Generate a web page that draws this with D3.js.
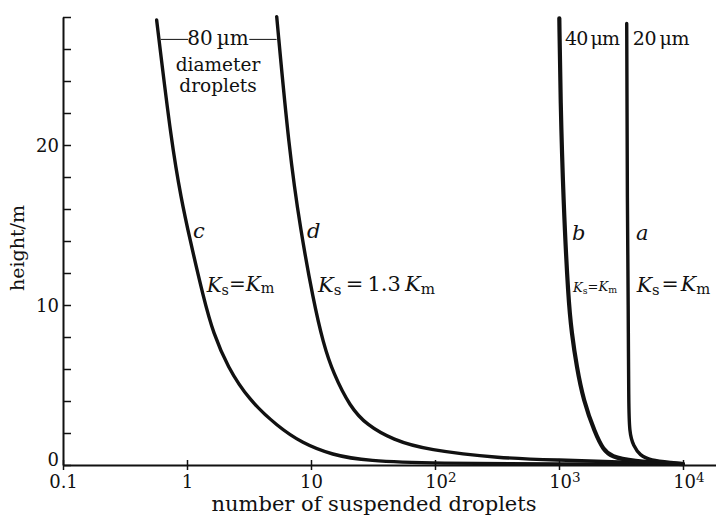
<!DOCTYPE html>
<html><head><meta charset="utf-8">
<script src="https://cdn.jsdelivr.net/npm/d3@7/dist/d3.min.js"></script>
<style>
body{margin:0;background:#fff}
svg{display:block}
text{font-family:"DejaVu Serif","Liberation Serif",serif;fill:#111}
</style>
</head><body>
<svg id="chart" width="716" height="517"></svg>
<script>
// ---- data (number of suspended droplets N vs height h in m) ----
const curveC_N = [0.569, 0.753, 0.903, 1.028, 1.371, 1.630, 2.121, 3.162, 5.42, 8.46, 14.77, 28.3, 100, 1000, 10000];
const curveC_H = [27.81, 20.0, 16.56, 14.5, 10.31, 8.25, 6.14, 4.06, 2.39, 1.375, 0.625, 0.25, 0.1, 0.06, 0.04];
const curveD_N = [5.29, 6.65, 8.23, 10.43, 12.57, 15.13, 20.63, 28.13, 46.1, 85.7, 334, 1000, 3000, 10000];
const curveD_H = [28.02, 19.69, 14.69, 10.31, 7.58, 5.73, 3.64, 2.5, 1.56, 0.94, 0.42, 0.31, 0.19, 0.06];
const curveB_N = [1006, 1028, 1083, 1189, 1266, 1389, 1570, 1951, 2277, 2661, 3738, 10000];
const curveB_H = [27.92, 22.81, 16.56, 10.31, 8.25, 6.14, 4.06, 2.0, 0.94, 0.52, 0.25, 0.06];
const curveA_N = [3516, 3540, 3556, 3600, 3623, 3650, 3690, 3981, 4500, 5420, 8300, 10000];
const curveA_H = [27.6, 22, 16.6, 12, 8.4, 4, 2, 1.2, 0.6, 0.3, 0.15, 0.08];

const xTickValues = [0.1, 1, 10, 100, 1000, 10000];
const xTickBase = ["0.1", "1", "10", "10", "10", "10"];
const xTickExp = ["", "", "", "2", "3", "4"];
const yTickValues = [0, 2, 4, 6, 8, 10, 12, 14, 16, 18, 20, 22, 24, 26, 28];
const yTickLabels = ["0", "", "", "", "", "10", "", "", "", "", "20", "", "", "", ""];

const xTitle = "number of suspended droplets";
const yTitle = "height/m";

// ---- layout ----
const svg = d3.select("#chart");
const x = d3.scaleLog().domain([0.1, 1e4]).range([63, 683]);
const y = d3.scaleLinear().domain([0, 28]).range([465, 17]);
const xAxisScale = x.copy().domain([0.1, x.invert(716)]).range([63, 716]);

// x axis
const gx = svg.append("g").attr("transform", `translate(0,${y(0)})`)
  .call(d3.axisBottom(xAxisScale).tickValues(xTickValues).tickSize(5).tickSizeOuter(0).tickPadding(5)
    .tickFormat(() => ""));
gx.select(".domain").attr("stroke", "#111").attr("stroke-width", 2);
gx.selectAll(".tick line").attr("y1", -5).attr("stroke", "#111").attr("stroke-width", 1.5);
gx.selectAll(".tick text").each(function(d, i) {
  const t = d3.select(this).attr("font-size", 18).attr("font-family", null).attr("fill", "#111");
  t.text(null);
  t.append("tspan").text(xTickBase[i]);
  if (xTickExp[i]) {
    t.attr("dx", "0.3em");
    t.append("tspan").attr("dy", "-0.45em").attr("font-size", "0.75em").text(xTickExp[i]);
  }
});

// y axis
const gy = svg.append("g").attr("transform", `translate(${x(0.1)},0)`)
  .call(d3.axisLeft(y).tickValues(yTickValues).tickSize(-8).tickSizeOuter(0).tickPadding(4)
    .tickFormat((d, i) => yTickLabels[i]));
gy.select(".domain").attr("stroke", "#111").attr("stroke-width", 2);
gy.selectAll(".tick line").attr("stroke", "#111").attr("stroke-width", 1.5);
gy.selectAll(".tick text").attr("font-size", 18).attr("font-family", null).attr("fill", "#111")
  .attr("dy", d => d === 0 ? "0.02em" : "0.36em");

// titles
svg.append("text").attr("x", 374).attr("y", 511).attr("text-anchor", "middle")
  .attr("font-size", 21).text(xTitle);
svg.append("text").attr("transform", `translate(24,${248}) rotate(-90)`).attr("text-anchor", "middle")
  .attr("font-size", 19).text(yTitle);

// curves
const line = d3.line().x(d => x(d[0])).y(d => y(d[1])).curve(d3.curveBasis);
const curves = [
  {N: curveC_N, H: curveC_H, w: 3.4},
  {N: curveD_N, H: curveD_H, w: 3.4},
  {N: curveB_N, H: curveB_H, w: 4.2},
  {N: curveA_N, H: curveA_H, w: 3.4}
];
curves.forEach(c => {
  svg.append("path").datum(c.N.map((n, i) => [n, c.H[i]]))
    .attr("d", line).attr("fill", "none").attr("stroke", "#111")
    .attr("stroke-width", c.w).attr("stroke-linejoin", "round").attr("stroke-linecap", "round");
});

// annotations
function plain(txt, n, h, size, anchor, italic, len) {
  const t = svg.append("text").attr("x", x(n)).attr("y", y(h)).attr("font-size", size)
    .attr("text-anchor", anchor || "start").attr("font-style", italic ? "italic" : null).text(txt);
  if (len) t.attr("textLength", len).attr("lengthAdjust", "spacing");
  return t;
}
function kLabel(n, h, size, mid) {
  const t = svg.append("text").attr("x", x(n)).attr("y", y(h)).attr("font-size", size);
  t.append("tspan").attr("font-style", "italic").text("K");
  t.append("tspan").attr("font-size", "0.72em").attr("dy", "0.2em").text("s");
  t.append("tspan").attr("dy", "-0.2em").text(mid);
  t.append("tspan").attr("font-style", "italic").text("K");
  t.append("tspan").attr("font-size", "0.72em").attr("dy", "0.2em").text("m");
}
// 80 µm bracket label
svg.append("line").attr("x1", x(0.614)).attr("x2", x(1.02)).attr("y1", y(26.6)).attr("y2", y(26.6))
  .attr("stroke", "#111").attr("stroke-width", 1);
svg.append("line").attr("x1", x(3.18)).attr("x2", x(5.28)).attr("y1", y(26.6)).attr("y2", y(26.6))
  .attr("stroke", "#111").attr("stroke-width", 1);
plain("80\u2009\u00B5m", 1.78, 26.25, 20, "middle");
const dd = svg.append("text").attr("font-size", 18.5).attr("text-anchor", "middle");
dd.append("tspan").attr("x", x(1.78)).attr("y", y(24.6)).text("diameter");
dd.append("tspan").attr("x", x(1.78)).attr("y", y(23.3)).text("droplets");
plain("c", 1.12, 14.19, 21, "start", true);
plain("d", 9.3, 14.19, 21, "start", true);
plain("b", 1274, 14.06, 21, "start", true);
plain("a", 4178, 14.06, 21, "start", true);
kLabel(1.44, 10.83, 20, "=");
kLabel(11.4, 10.83, 21, "\u2009=\u20091.3\u2009");
kLabel(1297, 10.83, 13, "=");
kLabel(4228, 10.83, 20.5, "\u200A=\u200A");
plain("40\u2009\u03BCm", 1117, 26.25, 19, "start", false, 55);
plain("20\u2009\u03BCm", 3926, 26.25, 19, "start", false, 57);
</script>
</body></html>
